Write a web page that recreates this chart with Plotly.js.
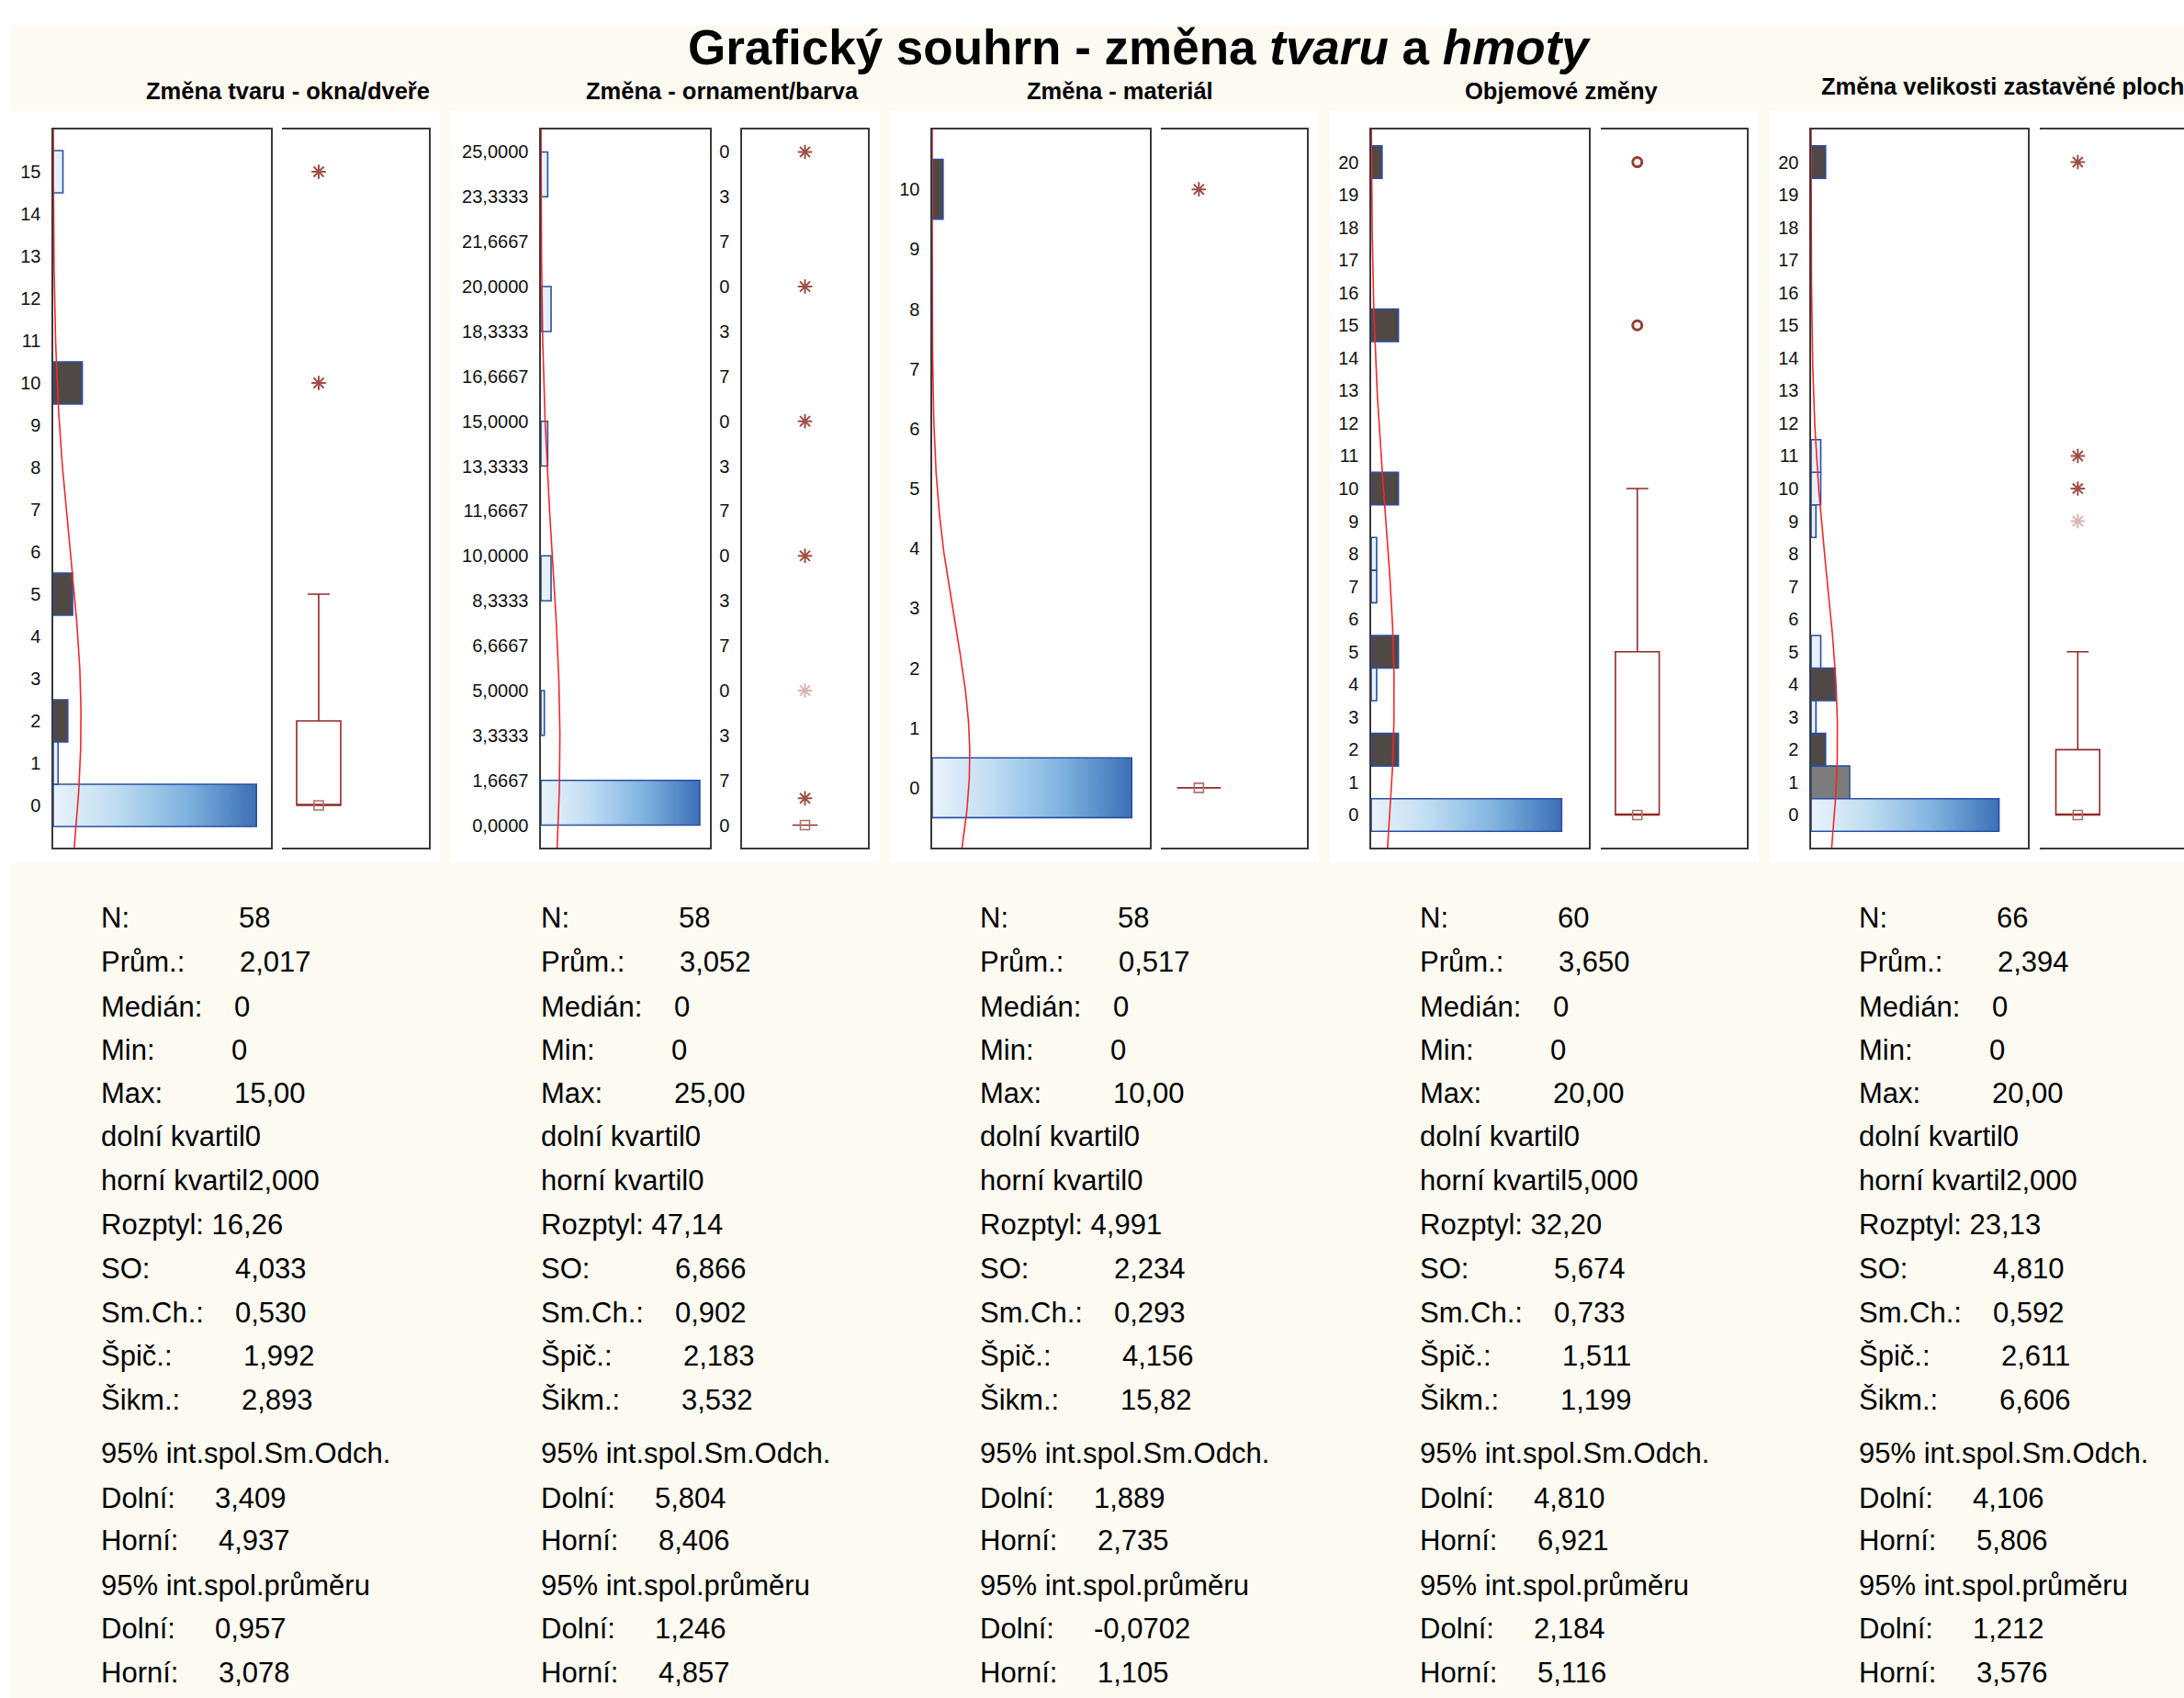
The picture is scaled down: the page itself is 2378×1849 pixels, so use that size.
<!DOCTYPE html>
<html><head><meta charset="utf-8">
<script src="https://cdn.plot.ly/plotly-3.0.1.min.js"></script>
<style>html,body{margin:0;padding:0;background:#fff}</style>
</head><body>
<div id="chart" style="width:2378px;height:1849px"></div>
<script>
const W = 2378, H = 1849;

// ---------- text ----------
const mainTitle = "<b>Grafický souhrn - změna <i>tvaru</i> a <i>hmoty</i></b>";
const panelTitles = ["Změna tvaru - okna/dveře", "Změna - ornament/barva", "Změna - materiál", "Objemové změny", "Změna velikosti zastavěné ploch"];

// ---------- histogram data (bin centre, count, fill style) ----------
const p1Bins = [0, 1, 2, 5, 10, 15];
const p1Counts = [42, 1, 3, 4, 6, 2];
const p1Fill = ["grad", "light", "dark", "dark", "dark", "light"];

const p2Bins = [0.8333, 4.1667, 9.1667, 14.1667, 19.1667, 24.1667];
const p2Counts = [47, 1, 3, 2, 3, 2];
const p2Fill = ["grad", "light", "light", "light", "light", "light"];

const p3Bins = [0, 10];
const p3Counts = [55, 3];
const p3Fill = ["grad", "dark"];

const p4Bins = [0, 2, 4, 5, 7, 8, 10, 15, 20];
const p4Counts = [35, 5, 1, 5, 1, 1, 5, 5, 2];
const p4Fill = ["grad", "dark", "light", "dark", "light", "light", "dark", "dark", "dark"];

const p5Bins = [0, 1, 2, 3, 4, 5, 9, 10, 11, 20];
const p5Counts = [39, 8, 3, 1, 5, 2, 1, 2, 2, 3];
const p5Fill = ["grad", "grey", "dark", "light", "dark", "light", "light", "light", "light", "dark"];

const binWidths = [1, 1.6667, 1, 1, 1];

// ---------- summary statistics ----------
const nValues = [58, 58, 58, 60, 66];
const means = [2.017, 3.052, 0.517, 3.650, 2.394];
const sds = [4.033, 6.866, 2.234, 5.674, 4.810];

// box-plot statistics
const q1s = [0, 0, 0, 0, 0];
const medians = [0, 0, 0, 0, 0];
const q3s = [2, 0, 0, 5, 2];
const lowWhisk = [0, 0, 0, 0, 0];
const highWhisk = [5, 0, 0, 10, 5];
const p1Extremes = [10, 15], p1ExtremeCounts = [6, 2];
const p2Extremes = [1, 5, 10, 15, 20, 25], p2ExtremeCounts = [2, 1, 3, 2, 3, 2];
const p3Extremes = [10], p3ExtremeCounts = [3];
const p4Outliers = [15, 20], p4OutlierCounts = [5, 2];
const p5Extremes = [9, 10, 11, 20], p5ExtremeCounts = [1, 2, 2, 3];

// ---------- tick labels ----------
const p1Ticks = [0,1,2,3,4,5,6,7,8,9,10,11,12,13,14,15];
const p2Ticks = [0,1.6667,3.3333,5,6.6667,8.3333,10,11.6667,13.3333,15,16.6667,18.3333,20,21.6667,23.3333,25];
const p2TickText = ["0,0000","1,6667","3,3333","5,0000","6,6667","8,3333","10,0000","11,6667","13,3333","15,0000","16,6667","18,3333","20,0000","21,6667","23,3333","25,0000"];
const p2BoxTickText = ["0","7","3","0","7","3","0","7","3","0","7","3","0","7","3","0"];
const p3Ticks = [0,1,2,3,4,5,6,7,8,9,10];
const p45Ticks = [0,1,2,3,4,5,6,7,8,9,10,11,12,13,14,15,16,17,18,19,20];

// ---------- statistics table ----------
const rowLabels = ["N:", "Prům.:", "Medián:", "Min:", "Max:", "dolní kvartil", "horní kvartil", "Rozptyl: ", "SO:", "Sm.Ch.:", "Špič.:", "Šikm.:", "95% int.spol.Sm.Odch.", "Dolní:", "Horní:", "95% int.spol.průměru", "Dolní:", "Horní:"];
const stats1 = ["58", "2,017", "0", "0", "15,00", "0", "2,000", "16,26", "4,033", "0,530", "1,992", "2,893", "", "3,409", "4,937", "", "0,957", "3,078"];
const stats2 = ["58", "3,052", "0", "0", "25,00", "0", "0", "47,14", "6,866", "0,902", "2,183", "3,532", "", "5,804", "8,406", "", "1,246", "4,857"];
const stats3 = ["58", "0,517", "0", "0", "10,00", "0", "0", "4,991", "2,234", "0,293", "4,156", "15,82", "", "1,889", "2,735", "", "-0,0702", "1,105"];
const stats4 = ["60", "3,650", "0", "0", "20,00", "0", "5,000", "32,20", "5,674", "0,733", "1,511", "1,199", "", "4,810", "6,921", "", "2,184", "5,116"];
const stats5 = ["66", "2,394", "0", "0", "20,00", "0", "2,000", "23,13", "4,810", "0,592", "2,611", "6,606", "", "4,106", "5,806", "", "1,212", "3,576"];

// ---------- layout geometry (pixels) ----------
const histX = [[58, 295], [589, 773], [1015, 1252], [1493, 1730], [1972, 2208]];
const boxX = [[307, 467], [808, 945], [1264, 1423], [1743, 1902], [2221, 2378]];
const frameY = [141, 923];
const histXRange = [[0, 45], [0, 50], [0, 60], [0, 40], [0, 45]];
const yRanges = [[-1, 16], [-0.8333, 25.8333], [-1, 11], [-1, 21], [-1, 21]];
const boxPos = [0.25, 0.5, 0.26, 0.25, 0.26];
const boxWidth = [0.3, 0.2, 0.3, 0.3, 0.3];
const panelRects = [[12, 479], [490, 958], [969, 1436], [1448, 1915], [1927, 2378]];
const titleCx = [313, 786, 1219, 1700, 1981];
const statX = [108, 587, 1065, 1544, 2022];
const rowBase = [1010, 1058, 1107, 1154, 1201, 1248, 1296, 1344, 1392, 1440, 1487, 1535, 1593, 1642, 1688, 1737, 1784, 1832];
const valOffset = [150, 151, 145, 142, 145, null, null, null, 146, 146, 155, 153, null, 124, 128, null, 124, 128];

const FONT = "Liberation Sans, Arial, sans-serif";
const BLUE_LINE = "#2A4FA5";
const DARK = "#504845", GREY = "#7C7C7C", LIGHT = "#DCEAF6";
const BOXRED = "#8E2A28";
const gradScale = [[0, "#EAF3FB"], [0.3, "#C0DDF2"], [0.65, "#7FB3DF"], [1, "#3C6FB6"]];

const hists = [
  {bins: p1Bins, counts: p1Counts, fill: p1Fill},
  {bins: p2Bins, counts: p2Counts, fill: p2Fill},
  {bins: p3Bins, counts: p3Counts, fill: p3Fill},
  {bins: p4Bins, counts: p4Counts, fill: p4Fill},
  {bins: p5Bins, counts: p5Counts, fill: p5Fill}
];
const points = [
  {v: p1Extremes, c: p1ExtremeCounts, sym: "asterisk-open"},
  {v: p2Extremes, c: p2ExtremeCounts, sym: "asterisk-open"},
  {v: p3Extremes, c: p3ExtremeCounts, sym: "asterisk-open"},
  {v: p4Outliers, c: p4OutlierCounts, sym: "circle-open"},
  {v: p5Extremes, c: p5ExtremeCounts, sym: "asterisk-open"}
];
const tickSets = [
  {vals: p1Ticks, text: p1Ticks.map(String)},
  {vals: p2Ticks, text: p2TickText},
  {vals: p3Ticks, text: p3Ticks.map(String)},
  {vals: p45Ticks, text: p45Ticks.map(String)},
  {vals: p45Ticks, text: p45Ticks.map(String)}
];
const statSets = [stats1, stats2, stats3, stats4, stats5];

const px2x = p => p / W;
const px2y = p => 1 - p / H;

const traces = [];
const layout = {
  width: W, height: H,
  margin: {l: 0, r: 0, t: 0, b: 0},
  paper_bgcolor: "#FFFFFF", plot_bgcolor: "#FFFFFF",
  showlegend: false, hovermode: false, barmode: "overlay",
  shapes: [], annotations: []
};

// background: cream area + white panels
layout.shapes.push({type: "rect", xref: "paper", yref: "paper", layer: "below",
  x0: px2x(12), x1: 1, y0: 0, y1: px2y(28), fillcolor: "#FDFAF2", line: {width: 0}});
panelRects.forEach(r => layout.shapes.push({type: "rect", xref: "paper", yref: "paper", layer: "below",
  x0: px2x(r[0]), x1: px2x(r[1]), y0: px2y(940), y1: px2y(121), fillcolor: "#FFFFFF", line: {width: 0}}));

for (let i = 0; i < 5; i++) {
  const hx = "x" + (2 * i + 1), hy = "y" + (2 * i + 1);
  const bx = "x" + (2 * i + 2), by = "y" + (2 * i + 2);
  const h = hists[i], bw = binWidths[i];
  const c0 = h.counts[0];

  // histogram bars
  ["dark", "grey"].forEach(kind => {
    const ys = [], xs = [];
    h.bins.forEach((b, k) => { if (h.fill[k] === kind) { ys.push(b); xs.push(h.counts[k]); } });
    if (ys.length) traces.push({type: "bar", orientation: "h", xaxis: hx, yaxis: hy, y: ys, x: xs, width: bw,
      marker: {color: kind === "dark" ? DARK : GREY, line: {color: BLUE_LINE, width: 1.6}}});
  });
  h.bins.forEach((b, k) => {
    if (h.fill[k] === "grad" || h.fill[k] === "light") {
      const lo = b - bw / 2, hi = b + bw / 2, n = h.counts[k];
      traces.push({type: "scatter", mode: "lines", xaxis: hx, yaxis: hy,
        x: [0, n, n, 0, 0], y: [lo, lo, hi, hi, lo], fill: "toself", fillcolor: LIGHT,
        fillgradient: {type: "horizontal", colorscale: gradScale, start: 0, stop: c0},
        line: {color: BLUE_LINE, width: 1.6}});
    }
  });

  // fitted normal curve (from the reported mean and SD)
  const yr = yRanges[i], cy = [], cx = [];
  for (let s = 0; s <= 300; s++) {
    const y = yr[0] + (yr[1] - yr[0]) * s / 300;
    const z = (y - means[i]) / sds[i];
    cy.push(y);
    cx.push(nValues[i] * bw / (sds[i] * Math.sqrt(2 * Math.PI)) * Math.exp(-0.5 * z * z));
  }
  traces.push({type: "scatter", mode: "lines", xaxis: hx, yaxis: hy, x: cx, y: cy,
    line: {color: "#F0282D", width: 1.6}});

  // box plot
  traces.push({type: "box", xaxis: bx, yaxis: by, x: [boxPos[i]],
    q1: [q1s[i]], median: [medians[i]], q3: [q3s[i]], lowerfence: [lowWhisk[i]], upperfence: [highWhisk[i]],
    width: boxWidth[i], whiskerwidth: 0.5, boxpoints: false,
    line: {color: BOXRED, width: 1.6}, fillcolor: "rgba(0,0,0,0)"});
  traces.push({type: "scatter", mode: "markers", xaxis: bx, yaxis: by, x: [boxPos[i]], y: [medians[i]],
    marker: {symbol: "square-open", size: 10, color: "#B0706A", line: {width: 1.6, color: "#B0706A"}}});
  const pt = points[i];
  const isCircle = pt.sym === "circle-open";
  const cols = pt.c.map(c => c > 1 ? (isCircle ? "rgba(150,60,50,1)" : "rgba(160,78,70,1)") : "rgba(185,120,112,0.55)");
  traces.push({type: "scatter", mode: "markers", xaxis: bx, yaxis: by,
    x: pt.v.map(() => boxPos[i]), y: pt.v,
    marker: {symbol: pt.sym, size: isCircle ? 10 : 13, color: cols,
      line: {width: isCircle ? 3 : 2, color: cols}}});

  // axes
  const yDom = [px2y(frameY[1]), px2y(frameY[0])];
  layout["xaxis" + (2 * i + 1)] = {domain: [px2x(histX[i][0]), px2x(histX[i][1])], range: histXRange[i],
    anchor: hy, showline: true, mirror: true, linecolor: "#3A3A3A", linewidth: 1.6,
    showgrid: false, zeroline: false, showticklabels: false, ticks: "", fixedrange: true};
  layout["yaxis" + (2 * i + 1)] = {domain: yDom, range: yRanges[i], anchor: hx,
    showline: true, mirror: true, linecolor: "#3A3A3A", linewidth: 1.6,
    showgrid: false, zeroline: false, tickmode: "array", tickvals: tickSets[i].vals, ticktext: tickSets[i].text,
    ticks: "outside", ticklen: 8, tickcolor: "rgba(0,0,0,0)",
    tickfont: {family: FONT, size: 20, color: "#111"}, fixedrange: true};
  const bRange = i === 4 ? [0, (2378 - 2221) / 159] : [0, 1];
  layout["xaxis" + (2 * i + 2)] = {domain: [px2x(boxX[i][0]), px2x(boxX[i][1])], range: bRange,
    anchor: by, showline: true, mirror: true, linecolor: "#3A3A3A", linewidth: 1.6,
    showgrid: false, zeroline: false, showticklabels: false, ticks: "", fixedrange: true};
  const byAxis = {domain: yDom, range: yRanges[i], anchor: bx,
    showgrid: false, zeroline: false, linecolor: "#3A3A3A", linewidth: 1.6, fixedrange: true};
  if (i === 1) {
    Object.assign(byAxis, {showline: true, mirror: true, side: "left", tickmode: "array",
      tickvals: p2Ticks, ticktext: p2BoxTickText, ticks: "outside", ticklen: 8, tickcolor: "rgba(0,0,0,0)",
      tickfont: {family: FONT, size: 20, color: "#111"}});
  } else {
    Object.assign(byAxis, {showline: i !== 4, side: "right", showticklabels: false, ticks: ""});
  }
  layout["yaxis" + (2 * i + 2)] = byAxis;

  // panel title
  layout.annotations.push({xref: "paper", yref: "paper", showarrow: false,
    x: px2x(titleCx[i]), xanchor: i === 4 ? "left" : "center",
    y: px2y((i === 4 ? 103 : 108) - 9), yanchor: "middle",
    text: "<b>" + panelTitles[i] + "</b>", font: {family: FONT, size: 25.5, color: "#000"}});

  // statistics
  const st = statSets[i], fs = 31;
  rowLabels.forEach((lab, r) => {
    const yy = px2y(rowBase[r] - 0.35 * fs);
    const off = valOffset[r];
    const txt = off === null ? lab + st[r] : lab;
    layout.annotations.push({xref: "paper", yref: "paper", showarrow: false, x: px2x(statX[i]), xanchor: "left",
      y: yy, yanchor: "middle", text: txt, font: {family: FONT, size: fs, color: "#000"}});
    if (off !== null && st[r] !== "") {
      layout.annotations.push({xref: "paper", yref: "paper", showarrow: false, x: px2x(statX[i] + off), xanchor: "left",
        y: yy, yanchor: "middle", text: st[r], font: {family: FONT, size: fs, color: "#000"}});
    }
  });
}

layout.annotations.push({xref: "paper", yref: "paper", showarrow: false, x: px2x(1240), xanchor: "center",
  y: px2y(70 - 0.35 * 53), yanchor: "middle", text: mainTitle, font: {family: FONT, size: 53, color: "#000"}});

Plotly.newPlot("chart", traces, layout, {staticPlot: true, displayModeBar: false});
</script>
</body></html>
